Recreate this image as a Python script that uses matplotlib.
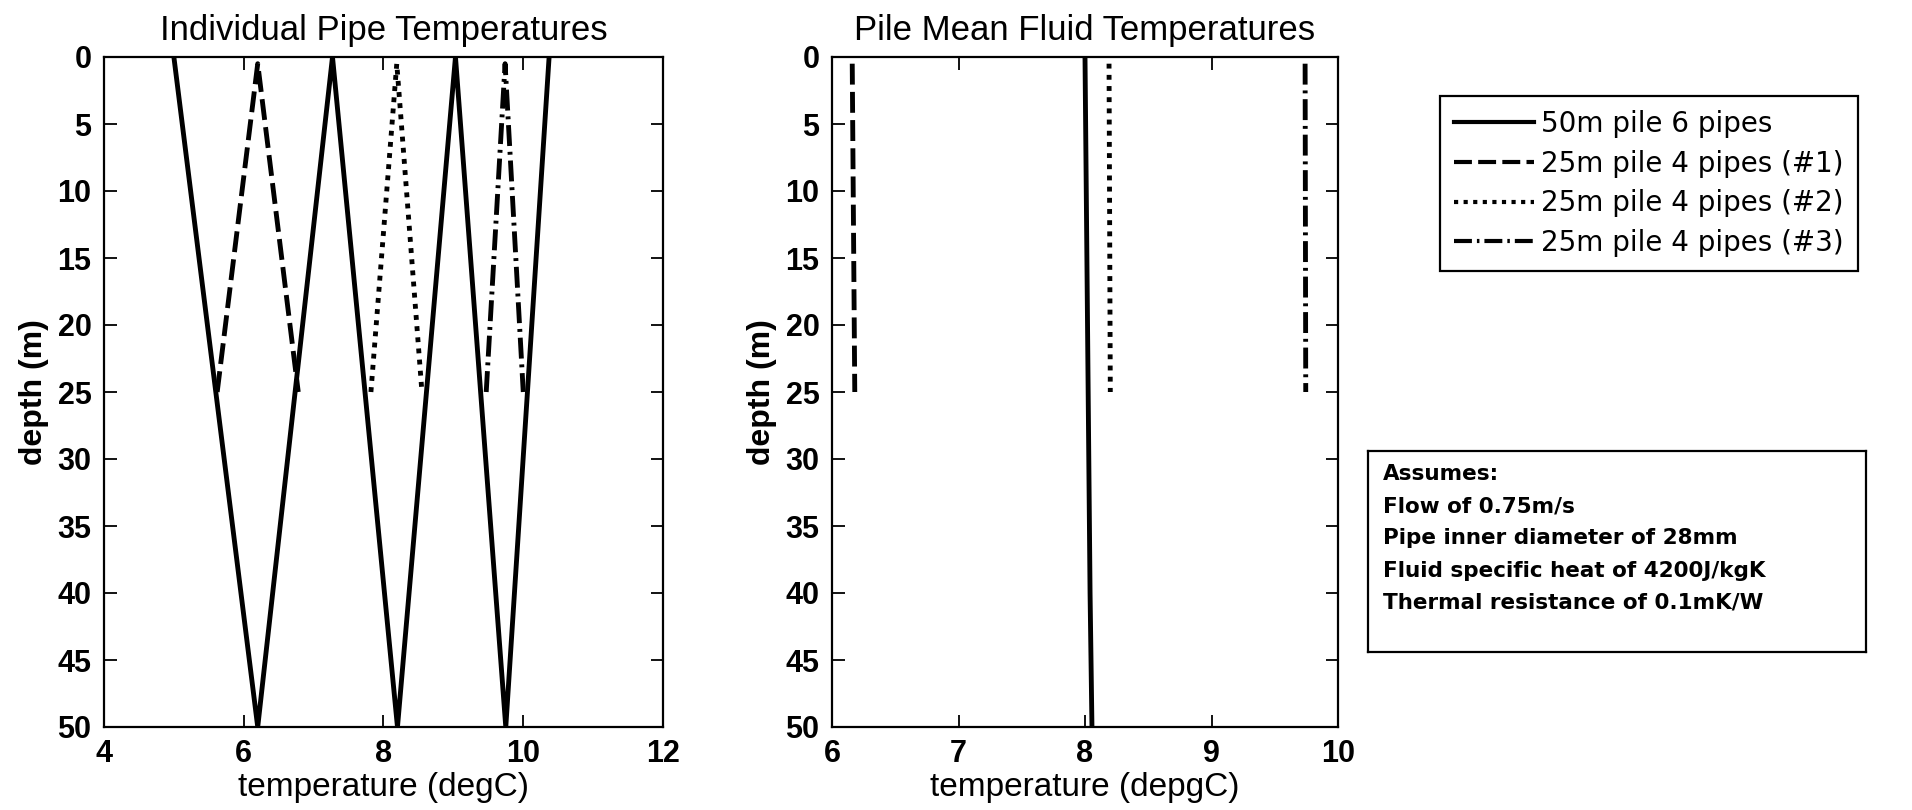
import numpy as np
import matplotlib
matplotlib.use('Agg')
import matplotlib.pyplot as plt
from matplotlib.lines import Line2D

plt.rcParams['font.family'] = ['Liberation Sans', 'DejaVu Sans']

# individual pipe temperatures (depth m, temperature degC)
depth_50 = [0, 50, 0, 50, 0, 50, 0]
temp_50 = [5.0, 6.2, 7.27, 8.2, 9.03, 9.75, 10.37]

depth_25 = [25, 0.5, 25]
temp_25_1 = [5.62, 6.2, 6.78]
temp_25_2 = [7.82, 8.19, 8.55]
temp_25_3 = [9.47, 9.74, 10.0]

# pile mean fluid temperatures
mean_depth_50 = [0, 10, 20, 30, 40, 50]
mean_50 = [8.0, 8.01, 8.02, 8.03, 8.04, 8.055]
mean_depth_25 = [0.5, 25]
mean_25_1 = [6.16, 6.18]
mean_25_2 = [8.19, 8.2]
mean_25_3 = [9.74, 9.745]

labels = ['50m pile 6 pipes', '25m pile 4 pipes (#1)',
          '25m pile 4 pipes (#2)', '25m pile 4 pipes (#3)']
assumptions = ['Assumes:', 'Flow of 0.75m/s', 'Pipe inner diameter of 28mm',
               'Fluid specific heat of 4200J/kgK', 'Thermal resistance of 0.1mK/W']

W, H = 1912, 810
fig = plt.figure(figsize=(W / 100, H / 100), dpi=100)

styles = [dict(ls='-'), dict(ls=(0, (4.3, 1.5))), dict(ls=(0, (1.0, 1.3))),
          dict(ls=(0, (4.3, 1.2, 0.6, 1.2)))]
lw = 3.5


def pix(x0, y0, x1, y1):
    return [x0 / W, 1 - y1 / H, (x1 - x0) / W, (y1 - y0) / H]


def style_axes(ax):
    ax.set_ylim(50, 0)
    ax.set_yticks(np.arange(0, 51, 5))
    ax.tick_params(direction='in', length=9, width=1.3, top=True, right=True,
                   labelsize=22, pad=9)
    for lab in ax.get_xticklabels() + ax.get_yticklabels():
        lab.set_fontweight('bold')
    for s in ax.spines.values():
        s.set_linewidth(1.6)
    ax.set_ylabel('depth (m)', fontsize=23, fontweight='bold', labelpad=6)


ax1 = fig.add_axes(pix(104, 57, 663, 727))
ax1.plot(temp_50, depth_50, color='k', lw=lw, **styles[0])
ax1.plot(temp_25_1, depth_25, color='k', lw=lw, **styles[1])
ax1.plot(temp_25_2, depth_25, color='k', lw=lw, **styles[2])
ax1.plot(temp_25_3, depth_25, color='k', lw=lw, **styles[3])
ax1.set_xlim(4, 12)
ax1.set_xticks([4, 6, 8, 10, 12])
style_axes(ax1)
ax1.set_title('Individual Pipe Temperatures', fontsize=25, pad=12)
ax1.set_xlabel('temperature (degC)', fontsize=24, labelpad=2)

ax2 = fig.add_axes(pix(832, 57, 1338, 727))
ax2.plot(mean_50, mean_depth_50, color='k', lw=lw, **styles[0])
ax2.plot(mean_25_1, mean_depth_25, color='k', lw=lw, **styles[1])
ax2.plot(mean_25_2, mean_depth_25, color='k', lw=lw, **styles[2])
ax2.plot(mean_25_3, mean_depth_25, color='k', lw=lw, **styles[3])
ax2.set_xlim(6, 10)
ax2.set_xticks([6, 7, 8, 9, 10])
style_axes(ax2)
ax2.set_title('Pile Mean Fluid Temperatures', fontsize=25, pad=12)
ax2.set_xlabel('temperature (depgC)', fontsize=24, labelpad=2)

handles = [Line2D([], [], color='k', lw=3, **s) for s in styles]
leg = fig.legend(handles, labels, loc='upper left',
                 bbox_to_anchor=(1440 / W, 1 - 96 / H),
                 prop={'family': 'DejaVu Sans', 'size': 20},
                 frameon=True, fancybox=False, edgecolor='k', framealpha=1,
                 handlelength=2.9, handletextpad=0.25, labelspacing=0.42,
                 borderpad=0.5, borderaxespad=0)
leg.get_frame().set_linewidth(1.6)

# text box with model assumptions
ax3 = fig.add_axes(pix(1368, 451, 1866, 652))
ax3.set_xticks([])
ax3.set_yticks([])
for s in ax3.spines.values():
    s.set_linewidth(1.6)
for i, line in enumerate(assumptions):
    ax3.text(0.03, 0.885 - i * 0.16, line, transform=ax3.transAxes,
             family='DejaVu Sans', fontsize=15.5, fontweight='bold', va='center')

fig.savefig('out.png', dpi=100)
